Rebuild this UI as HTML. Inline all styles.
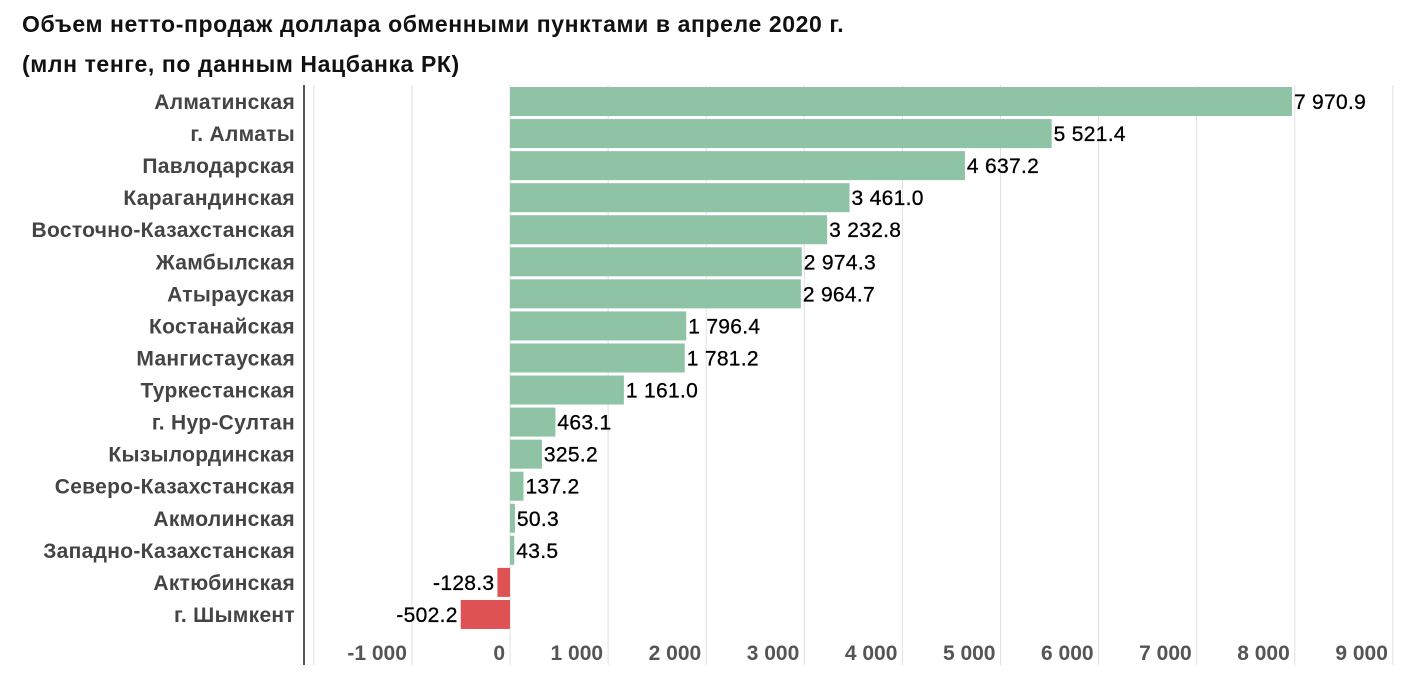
<!DOCTYPE html>
<html><head><meta charset="utf-8"><style>
body{margin:0;background:#fff;font-family:"Liberation Sans",sans-serif;}
svg text{font-family:"Liberation Sans",sans-serif;}
</style></head><body>
<svg width="1409" height="680" id="c">
<text x="22" y="32" font-size="23" font-weight="bold" fill="#111" letter-spacing="0.6">Объем нетто-продаж доллара обменными пунктами  в апреле 2020 г.</text>
<text x="22" y="72" font-size="23" font-weight="bold" fill="#111" letter-spacing="0.6">(млн тенге, по данным Нацбанка РК)</text>
</svg>
<script>
const categories=["Алматинская","г. Алматы","Павлодарская","Карагандинская","Восточно-Казахстанская","Жамбылская","Атырауская","Костанайская","Мангистауская","Туркестанская","г. Нур-Султан","Кызылординская","Северо-Казахстанская","Акмолинская","Западно-Казахстанская","Актюбинская","г. Шымкент"];
const values=[7970.9,5521.4,4637.2,3461.0,3232.8,2974.3,2964.7,1796.4,1781.2,1161.0,463.1,325.2,137.2,50.3,43.5,-128.3,-502.2];
const ticks=[-2000,-1000,0,1000,2000,3000,4000,5000,6000,7000,8000,9000];
const tickLabels=["","-1 000","0","1 000","2 000","3 000","4 000","5 000","6 000","7 000","8 000","9 000"];
const svg=document.getElementById('c');const NS='http://www.w3.org/2000/svg';
const x=v=>510+v*0.0981;
const y0=87,step=32.06,bh=29;
function mk(t,a){const e=document.createElementNS(NS,t);for(const k in a)e.setAttribute(k,a[k]);svg.appendChild(e);return e;}
function fmt(v){const s=Math.abs(v).toFixed(1).split('.');return (v<0?'-':'')+s[0].replace(/\B(?=(\d{3})+(?!\d))/g,' ')+'.'+s[1];}
ticks.forEach((t,i)=>{
const g=mk('line',{x1:x(t),x2:x(t),y1:85,y2:665,stroke:'#e0e0e0','stroke-width':1});


const l=mk('text',{x:x(t)-5,y:660,'font-size':21,'font-weight':'bold',fill:'#555','text-anchor':'end'});l.textContent=tickLabels[i];


});
const ax=mk('line',{x1:304,x2:304,y1:85,y2:665,stroke:'#555','stroke-width':2});


categories.forEach((c,i)=>{
const v=values[i],top=y0+i*step;
const r=mk('rect',{x:Math.min(x(0),x(v)),y:top,width:Math.abs(x(v)-x(0)),height:bh,fill:v<0?'#de5254':'#8fc3a6'});


const cl=mk('text',{x:295,y:top+22,'font-size':21,'font-weight':'bold',fill:'#444','text-anchor':'end','letter-spacing':0.3});cl.textContent=c;


const vl=mk('text',{x:v<0?x(v)-3:x(v)+2,y:top+22,'font-size':21,fill:'#000','text-anchor':v<0?'end':'start','letter-spacing':0.3,stroke:'#000','stroke-width':0.3});vl.textContent=fmt(v);


});
</script>
</body></html>
